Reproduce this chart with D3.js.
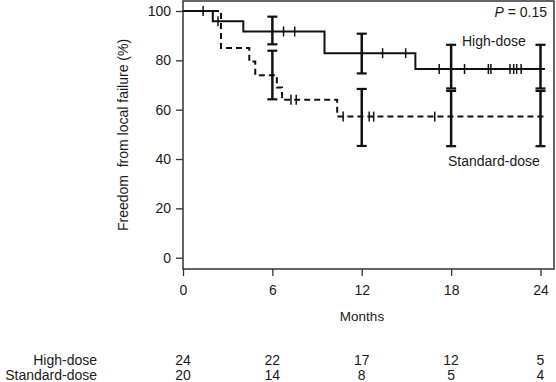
<!DOCTYPE html>
<html>
<head>
<meta charset="utf-8">
<script src="https://cdn.jsdelivr.net/npm/d3@7"></script>
<style>
  html, body { margin: 0; padding: 0; background: #fff; }
  svg { display: block; }
  text { font-family: "Liberation Sans", Arial, sans-serif; fill: #1a1a1a; }
</style>
</head>
<body>
<svg id="chart" width="556" height="382"></svg>
<script>
// ---- data ----
const monthTicks = [0, 6, 12, 18, 24];
const survTicks = [0, 20, 40, 60, 80, 100];

const highTimes = [0, 2.0, 4.05, 9.5, 15.6];
const highSurv = [100, 95.8, 91.7, 82.9, 76.5];
const highEnd = 24.3;
const highCensor = [1.35, 2.35, 6.75, 7.5, 13.4, 14.95, 17.2, 18.9, 20.5, 20.67, 21.95, 22.2, 22.4, 22.7];
const highCIlow = [86.5, 74.7, 68.6, 68.6];
const highCIhigh = [97.7, 90.8, 86.3, 86.3];

const stdTimes = [0, 2.55, 4.45, 4.85, 6.3, 6.65, 10.35];
const stdSurv = [100, 85, 79.5, 74, 69, 64, 57.2];
const stdEnd = 24.3;
const stdCensor = [7.25, 7.6, 10.75, 12.5, 12.8, 16.9];
const stdCIlow = [64.2, 45.3, 45.2, 45.2];
const stdCIhigh = [83.9, 68.4, 67.6, 67.6];

const ciMonths = [6, 12, 18, 24];

const riskGroups = ["High-dose", "Standard-dose"];
const riskHigh = [24, 22, 17, 12, 5];
const riskStd = [20, 14, 8, 5, 4];

// ---- layout ----
const svg = d3.select("#chart");
const frame = { left: 183, right: 554, top: 1, bottom: 269 };
const x = d3.scaleLinear().domain([0, 24]).range([183, 540.5]);
const y = d3.scaleLinear().domain([0, 100]).range([257.7, 11]);

// frame
svg.append("rect")
  .attr("x", frame.left).attr("y", frame.top)
  .attr("width", frame.right - frame.left).attr("height", frame.bottom - frame.top)
  .attr("fill", "none").attr("stroke", "#333").attr("stroke-width", 1.5);

// y axis
const yAxis = d3.axisLeft(y).tickValues(survTicks).tickSize(7).tickPadding(5);
const gy = svg.append("g").attr("transform", `translate(${frame.left},0)`).call(yAxis);
gy.select(".domain").remove();
gy.selectAll("line").attr("stroke", "#333").attr("stroke-width", 1.3);
gy.selectAll("text").style("font-size", "14px").attr("fill", "#1a1a1a")
  .style("font-family", '"Liberation Sans", Arial, sans-serif');

// x axis
const xAxis = d3.axisBottom(x).tickValues(monthTicks).tickSize(7).tickPadding(9);
const gx = svg.append("g").attr("transform", `translate(0,${frame.bottom})`).call(xAxis);
gx.select(".domain").remove();
gx.selectAll("line").attr("stroke", "#333").attr("stroke-width", 1.3);
gx.selectAll("text").style("font-size", "14px").attr("fill", "#1a1a1a")
  .style("font-family", '"Liberation Sans", Arial, sans-serif');

// axis titles
svg.append("text").attr("x", 362).attr("y", 321).attr("text-anchor", "middle")
  .style("font-size", "13.5px").text("Months");
svg.append("text")
  .attr("transform", "translate(128,135) rotate(-90)")
  .attr("text-anchor", "middle").style("font-size", "14px")
  .style("white-space", "pre")
  .text("Freedom  from local failure (%)");

// curves
function stepData(times, surv, end) {
  const d = times.map((t, i) => [t, surv[i]]);
  d.push([end, surv[surv.length - 1]]);
  return d;
}
const line = d3.line().x(d => x(d[0])).y(d => y(d[1])).curve(d3.curveStepAfter);

function survAt(times, surv, t) {
  let v = surv[0];
  for (let i = 0; i < times.length; i++) if (times[i] <= t) v = surv[i];
  return v;
}

function drawGroup(times, surv, end, censor, ciLow, ciHigh, dash) {
  const g = svg.append("g");
  g.append("path").attr("d", line(stepData(times, surv, end)))
    .attr("fill", "none").attr("stroke", "#111").attr("stroke-width", 2)
    .attr("stroke-dasharray", dash);
  g.selectAll(".cens").data(censor).enter().append("line")
    .attr("x1", d => x(d)).attr("x2", d => x(d))
    .attr("y1", d => y(survAt(times, surv, d)) - 5)
    .attr("y2", d => y(survAt(times, surv, d)) + 5)
    .attr("stroke", "#111").attr("stroke-width", 1.5);
  ciMonths.forEach((m, i) => {
    const xm = x(m);
    g.append("line").attr("x1", xm).attr("x2", xm)
      .attr("y1", y(ciLow[i])).attr("y2", y(ciHigh[i]))
      .attr("stroke", "#111").attr("stroke-width", 2.5);
    [ciLow[i], ciHigh[i]].forEach(v => {
      g.append("line").attr("x1", xm - 5).attr("x2", xm + 5)
        .attr("y1", y(v)).attr("y2", y(v))
        .attr("stroke", "#111").attr("stroke-width", 2.2);
    });
  });
}

drawGroup(stdTimes, stdSurv, stdEnd, stdCensor, stdCIlow, stdCIhigh, "6,4");
drawGroup(highTimes, highSurv, highEnd, highCensor, highCIlow, highCIhigh, null);

// labels in plot
const pText = svg.append("text").attr("x", 547).attr("y", 17).attr("text-anchor", "end")
  .style("font-size", "14px");
pText.append("tspan").style("font-style", "italic").text("P");
pText.append("tspan").text(" = 0.15");

svg.append("text").attr("x", 462).attr("y", 46).style("font-size", "14px").text("High-dose");
svg.append("text").attr("x", 448).attr("y", 166).style("font-size", "14px").text("Standard-dose");

// number at risk table
const rowY = [365, 380];
[riskHigh, riskStd].forEach((row, r) => {
  svg.append("text").attr("x", 97).attr("y", rowY[r]).attr("text-anchor", "end")
    .style("font-size", "14px").text(riskGroups[r]);
  svg.selectAll(null).data(row).enter().append("text")
    .attr("x", (d, i) => x(monthTicks[i])).attr("y", rowY[r])
    .attr("text-anchor", "middle").style("font-size", "14px").text(d => d);
});
</script>
</body>
</html>
